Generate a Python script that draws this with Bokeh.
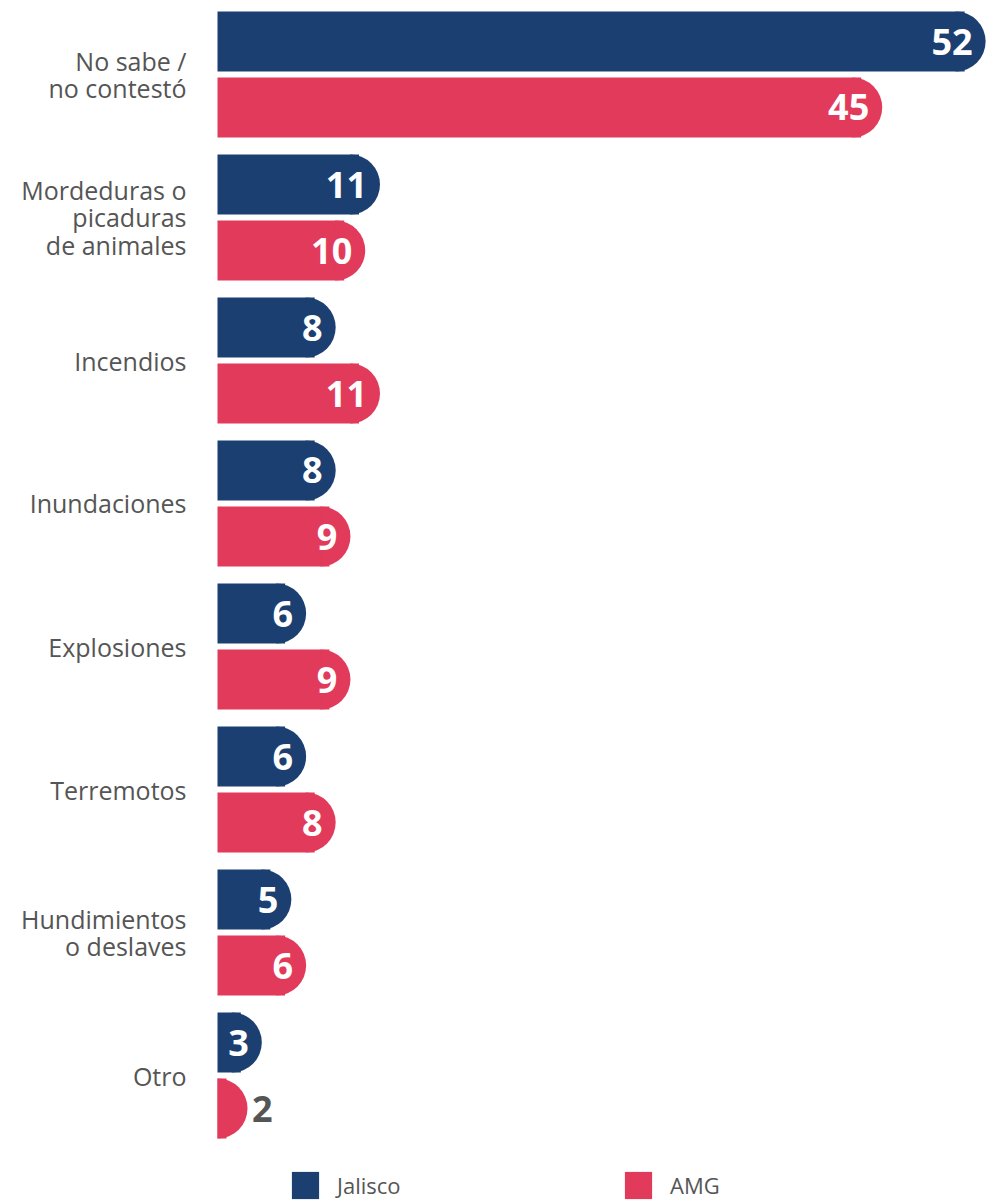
import math
from bokeh.plotting import figure
from bokeh.layouts import column
from bokeh.models import FactorRange, Range1d, Legend, LegendItem, ColumnDataSource
from bokeh.core.properties import value
from bokeh.embed import file_html
from bokeh.resources import INLINE

# ---- data ----
categories = [
    "No sabe /\nno contestó",
    "Mordeduras o\npicaduras\nde animales",
    "Incendios",
    "Inundaciones",
    "Explosiones",
    "Terremotos",
    "Hundimientos\no deslaves",
    "Otro",
]
series = ["Jalisco", "AMG"]
jalisco = [52, 11, 8, 8, 6, 6, 5, 3]
amg = [45, 10, 11, 9, 9, 8, 6, 2]

# ---- styling ----
W = 986
TOP = 8
FRAME_H = 1133
H1 = TOP + FRAME_H
H2 = 1200 - H1
LEFT_PX = 217
X_END = 52.06
NAVY = "#1c3f72"
RED = "#e13a5a"
GRAY = "#555555"
FONT = "Open Sans"
CAP_PX = 30

x_start = -LEFT_PX * X_END / (W - LEFT_PX)
units_per_px = (X_END - x_start) / W
cap = CAP_PX * units_per_px

# categorical y runs bottom-to-top, so list factors in reverse to read top-down
factors = [(c, s) for c in reversed(categories) for s in reversed(series)]
xr = Range1d(x_start, X_END)
yr = FactorRange(factors=factors, group_padding=11 / 66, factor_padding=0.0, range_padding=0.0)

p = figure(width=W, height=H1, output_backend="svg", toolbar_location=None,
           x_range=xr, y_range=yr,
           x_axis_location=None, y_axis_location=None,
           min_border_left=0, min_border_right=0, min_border_top=TOP, min_border_bottom=0)
p.outline_line_color = None
p.xgrid.visible = False
p.ygrid.visible = False

# legend strip (shares ranges so the series sources can back its legend glyphs)
lf = figure(width=W, height=H2, output_backend="svg", toolbar_location=None,
            x_range=xr, y_range=yr,
            x_axis_location=None, y_axis_location=None,
            min_border_left=0, min_border_right=0, min_border_top=0, min_border_bottom=0)
lf.outline_line_color = None
lf.xgrid.visible = False
lf.ygrid.visible = False

colors = {"Jalisco": NAVY, "AMG": RED}
legend_items = []
for name, vals in (("Jalisco", jalisco), ("AMG", amg)):
    color = colors[name]
    ys = [(c, name) for c in categories]
    centers = [max(v - cap, 0) for v in vals]
    src = ColumnDataSource(dict(y=ys, v=vals, c=centers,
                                r=[cc + cap * 0.3 for cc in centers]))
    p.hbar(y="y", left=0, right="r", height=60 / 66, source=src,
           fill_color=color, line_color=None)
    p.wedge(x="c", y="y", radius=CAP_PX, radius_units="screen",
            start_angle=-math.pi / 2, end_angle=math.pi / 2, source=src,
            fill_color=color, line_color=None)
    lr = lf.hbar(y="y", left=0, right="r", height=60 / 66, source=src,
                 fill_color=color, line_color=None, visible=False)
    legend_items.append((name, lr))

    inside = [i for i, v in enumerate(vals) if v >= 3]
    outside = [i for i, v in enumerate(vals) if v < 3]
    src_in = ColumnDataSource(dict(y=[ys[i] for i in inside], x=[vals[i] for i in inside],
                                   t=[str(vals[i]) for i in inside]))
    p.text(x="x", y="y", text="t", source=src_in, x_offset=-13,
           text_align="right", text_baseline="middle", text_color="white",
           text_font=value(FONT), text_font_style="bold", text_font_size="36px")
    if outside:
        src_out = ColumnDataSource(dict(y=[ys[i] for i in outside], x=[vals[i] for i in outside],
                                        t=[str(vals[i]) for i in outside]))
        p.text(x="x", y="y", text="t", source=src_out, x_offset=5,
               text_align="left", text_baseline="middle", text_color=GRAY,
               text_font=value(FONT), text_font_style="bold", text_font_size="36px")

# category labels
src_cat = ColumnDataSource(dict(y=categories, x=[0] * len(categories), t=categories))
p.text(x="x", y="y", text="t", source=src_cat, x_offset=-31,
       text_align="right", text_baseline="middle", text_color=GRAY,
       text_font=value(FONT), text_font_size="25px", text_line_height=0.8)

for (name, lr), xloc in zip(legend_items, (288, 621)):
    lg = Legend(items=[LegendItem(label=name, renderers=[lr])],
                location=(xloc, -2), orientation="horizontal",
                glyph_width=34, glyph_height=34, label_standoff=15,
                label_text_font=FONT, label_text_font_size="22px",
                label_text_color=GRAY, padding=0, margin=0, spacing=0,
                inactive_fill_alpha=0,
                border_line_color=None, background_fill_alpha=0)
    lf.add_layout(lg, "center")

layout = column(p, lf, spacing=0)
open("out.html", "w").write(file_html(layout, INLINE))
